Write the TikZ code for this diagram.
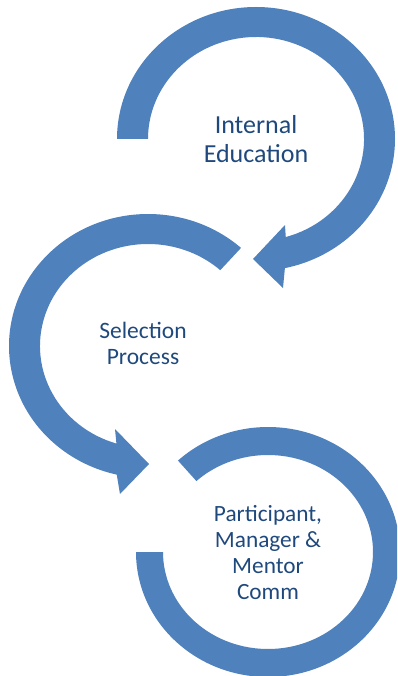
\documentclass[tikz,border=0pt]{standalone}
\usepackage{fontspec}
\setmainfont{Carlito}
\usetikzlibrary{calc}
\definecolor{ringblue}{HTML}{4F81BD}
\definecolor{textblue}{HTML}{1F497D}
\begin{document}
\begin{tikzpicture}[x=1pt,y=1pt,
  ring/.style={fill=ringblue,draw=none},
  lbl/.style={text=textblue,align=center,inner sep=0pt}]
\useasboundingbox (0,0) rectangle (397,-676);
\clip (0,0) rectangle (397,-676);
% ring 1
\fill[ring] (117,-139) arc[start angle=180,end angle=-78,x radius=139pt,y radius=132pt]
  -- (283,-288) -- (253,-259) -- (285,-225)
  -- ($(256,-139)+(-74:108pt and 102pt)$)
  arc[start angle=-74,end angle=180,x radius=108pt,y radius=102pt] -- cycle;
% ring 2
\fill[ring] ($(148,-346)+(48:139pt and 132pt)$)
  arc[start angle=48,end angle=257,x radius=139pt,y radius=132pt]
  -- (120,-494) -- (149,-464) -- (115,-429)
  -- ($(148,-346)+(253:108pt and 102pt)$)
  arc[start angle=253,end angle=48,x radius=108pt,y radius=102pt] -- cycle;
% ring 3
\fill[ring] (136,-552) arc[start angle=180,end angle=493,x radius=132pt,y radius=125pt]
  -- ($(268,-552)+(133:105pt and 97pt)$)
  arc[start angle=493,end angle=180,x radius=105pt,y radius=97pt] -- cycle;
\node[lbl,font=\fontsize{26}{29}\selectfont] (t1) at (256,-139) {Internal\\Education};
\node[lbl,font=\fontsize{23.5}{26}\selectfont] (t2) at (143,-343) {Selection\\Process};
\node[lbl,font=\fontsize{23.3}{26}\selectfont] (t3) at (268,-553) {Participant,\\Manager \&\\Mentor\\Comm};
\end{tikzpicture}
\end{document}
